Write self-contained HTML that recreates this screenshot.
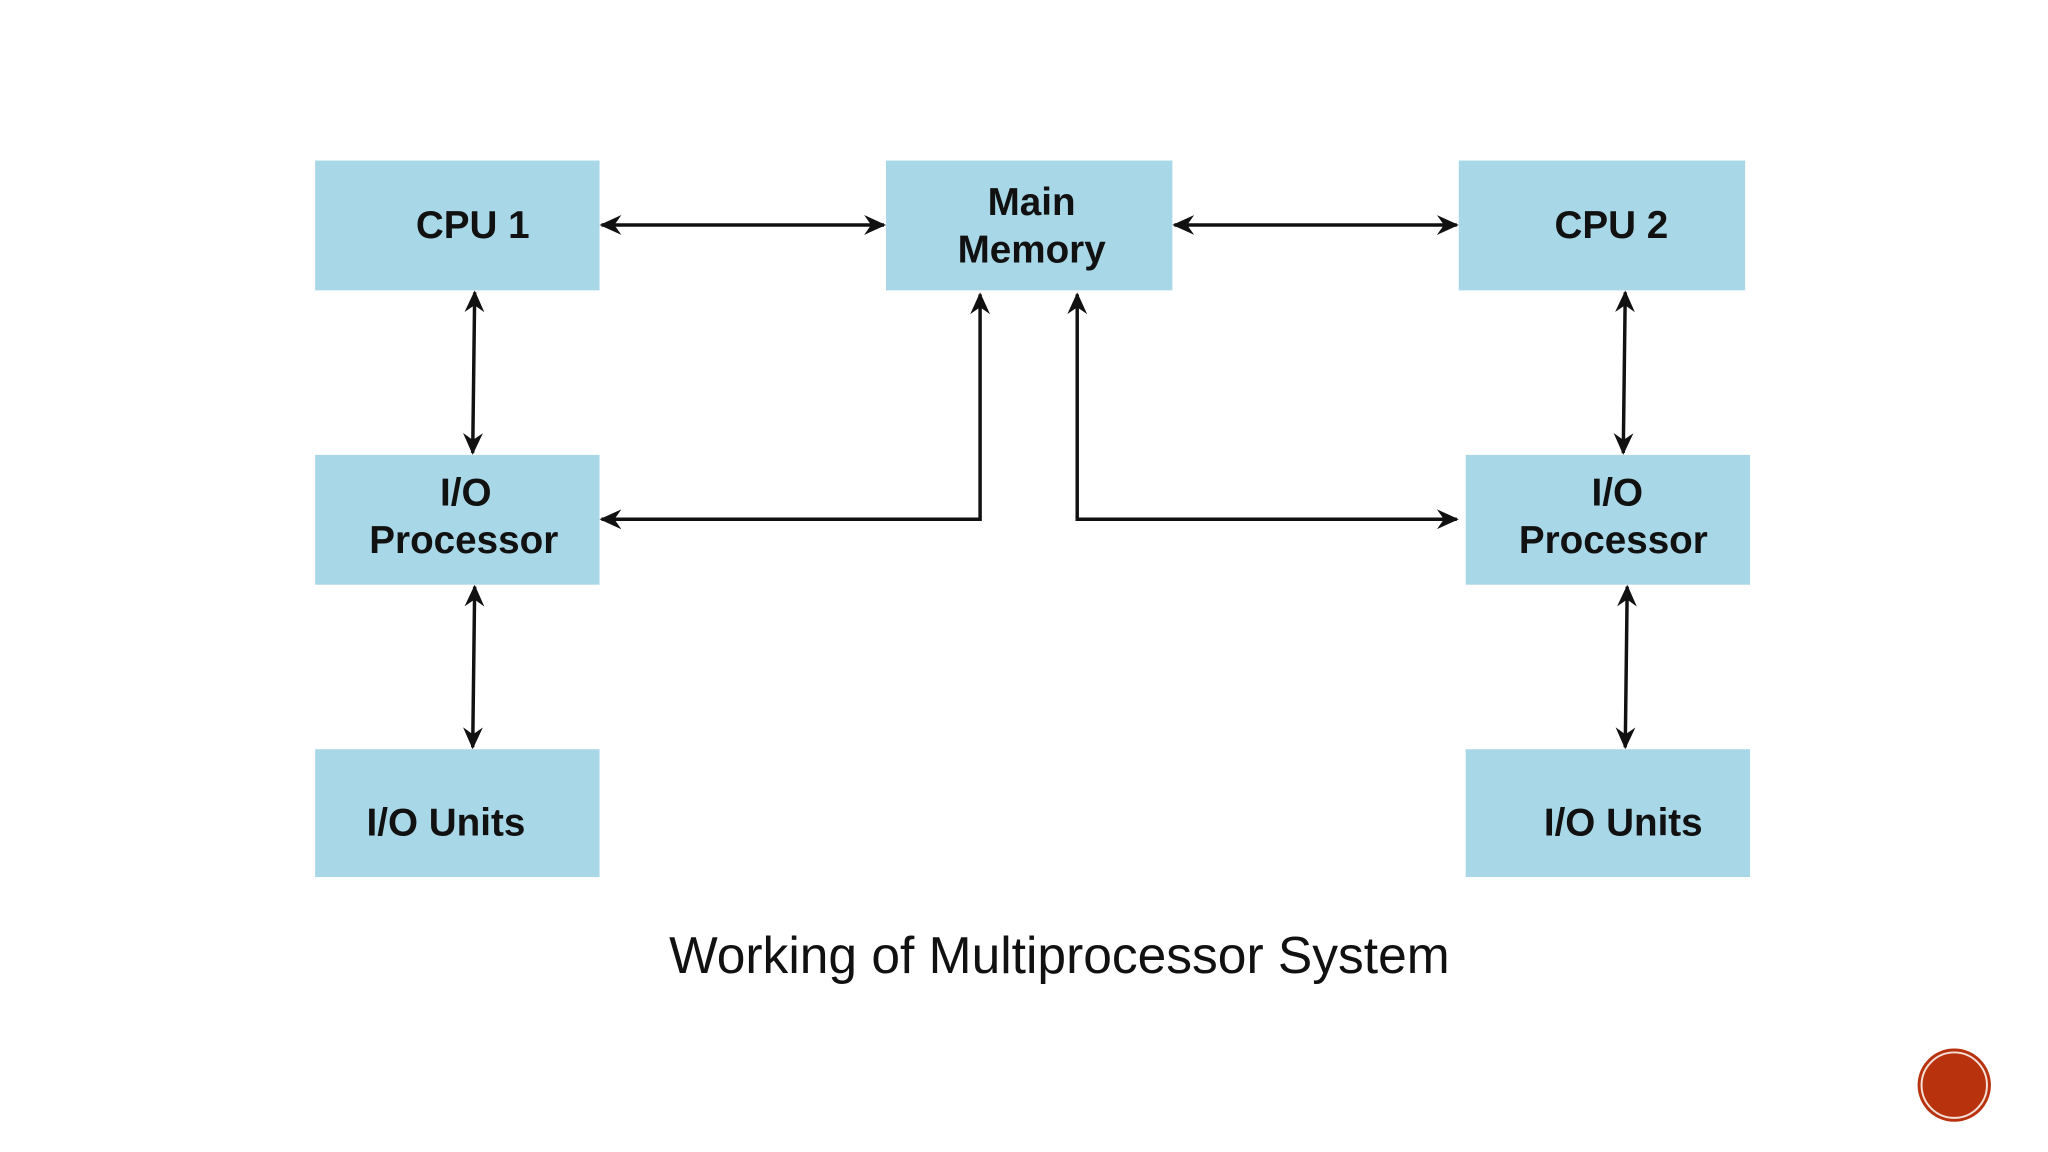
<!DOCTYPE html>
<html><head><meta charset="utf-8"><style>
html,body{margin:0;padding:0;background:#fff;}
svg{display:block;}
text{font-family:"Liberation Sans","DejaVu Sans",sans-serif;fill:#111;}
</style></head><body>
<svg width="2048" height="1152" viewBox="0 0 2048 1152" xmlns="http://www.w3.org/2000/svg">
<defs>
<marker id="b" markerWidth="22" markerHeight="22" refX="20" refY="11" orient="auto-start-reverse" markerUnits="userSpaceOnUse" viewBox="0 0 22 22">
<path d="M0,1 L22,11 L0,21 L7,11 Z" fill="#111"/>
</marker>
</defs>
<g transform="scale(0.991)">
<g fill="#a8d8e8">
<rect x="318" y="162" width="287" height="131"/>
<rect x="894" y="162" width="289" height="131"/>
<rect x="1472" y="162" width="289" height="131"/>
<rect x="318" y="459" width="287" height="131"/>
<rect x="1479" y="459" width="287" height="131"/>
<rect x="318" y="756" width="287" height="129"/>
<rect x="1479" y="756" width="287" height="129"/>
</g>
<g stroke="#111" stroke-width="3.5" fill="none" marker-start="url(#b)" marker-end="url(#b)">
<line x1="607" y1="227" x2="892" y2="227"/>
<line x1="1185" y1="227" x2="1470" y2="227"/>
<line x1="479" y1="295" x2="477" y2="457"/>
<line x1="1640" y1="295" x2="1638" y2="457"/>
<line x1="479" y1="592" x2="477" y2="754"/>
<line x1="1642" y1="592" x2="1640" y2="754"/>
</g>
<g stroke="#111" stroke-width="3.5" fill="none">
<polyline points="607,524 989,524 989,297" marker-start="url(#b)" marker-end="url(#b)"/>
<polyline points="1087,297 1087,524 1470,524" marker-start="url(#b)" marker-end="url(#b)"/>
</g>
<g font-size="39" font-weight="bold" text-anchor="middle">
<text x="477" y="240">CPU 1</text>
<text x="1041" y="217">Main</text>
<text x="1041" y="265">Memory</text>
<text x="1626" y="240">CPU 2</text>
<text x="470" y="510">I/O</text>
<text x="468" y="558">Processor</text>
<text x="1632" y="510">I/O</text>
<text x="1628" y="558">Processor</text>
<text x="450" y="843">I/O Units</text>
<text x="1638" y="843">I/O Units</text>
</g>
<text x="1069" y="982" font-size="52" text-anchor="middle">Working of Multiprocessor System</text>
<circle cx="1972" cy="1095" r="37" fill="#b8320e"/>
<circle cx="1972" cy="1095" r="33" fill="none" stroke="#f5e0d8" stroke-width="2"/>
</g>
</svg>
</body></html>
